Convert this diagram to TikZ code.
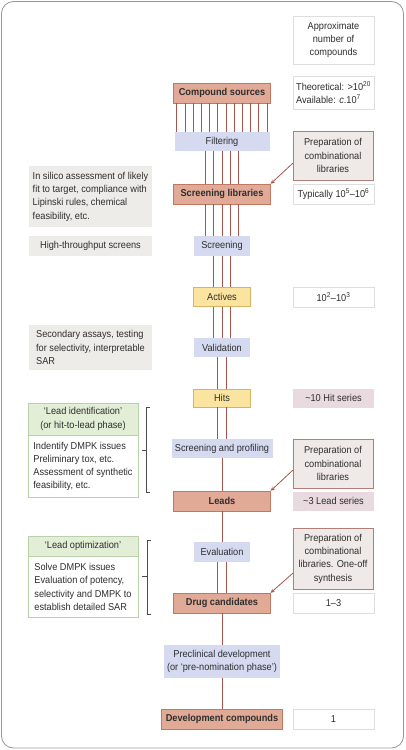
\documentclass[tikz,border=0pt]{standalone}
\usepackage{fontspec}
\setmainfont{Liberation Sans}[FakeStretch=0.92]
\usepackage{xcolor}
\usepackage{tikz}
\usetikzlibrary{arrows,positioning,calc}

\definecolor{stagefill}{RGB}{225,170,150}
\definecolor{stageline}{RGB}{190,120,100}
\definecolor{procfill}{RGB}{214,218,240}
\definecolor{resfill}{RGB}{250,228,160}
\definecolor{resline}{RGB}{215,180,100}
\definecolor{notefill}{RGB}{238,236,233}
\definecolor{prepfill}{RGB}{239,234,232}
\definecolor{prepline}{RGB}{176,128,120}
\definecolor{seriesfill}{RGB}{232,218,222}
\definecolor{countline}{RGB}{222,222,222}
\definecolor{phasefill}{RGB}{226,238,214}
\definecolor{phaseline}{RGB}{185,210,170}
\definecolor{linkcol}{RGB}{165,85,75}
\definecolor{framecol}{RGB}{150,150,150}

\begin{document}
\begin{tikzpicture}[
    x=1pt, y=-1pt,
    font=\fontsize{10}{13.3}\selectfont,
    every node/.style={text=black!82, inner xsep=3pt, inner ysep=2pt, align=center},
    stage/.style={rectangle, draw=stageline, fill=stagefill, minimum width=97, minimum height=20, font=\fontsize{10}{13.3}\selectfont\bfseries},
    process/.style={rectangle, fill=procfill, minimum height=19},
    result/.style={rectangle, draw=resline, fill=resfill, minimum width=57, minimum height=19},
    note/.style={rectangle, fill=notefill, minimum width=123, align=left},
    count/.style={rectangle, draw=countline, fill=white, minimum width=81, minimum height=20},
    series/.style={rectangle, fill=seriesfill, minimum width=81, minimum height=19},
    prep/.style={rectangle, draw=prepline, fill=prepfill, minimum width=80},
    phasehead/.style={rectangle, draw=phaseline, fill=phasefill, minimum width=110},
    phasebody/.style={rectangle, draw=phaseline, fill=white, minimum width=110, align=left},
    link/.style={draw=linkcol, line width=1pt},
    arrow/.style={->, >=stealth, draw=linkcol, line width=0.8pt},
    bracket/.style={draw=black!70, line width=0.6pt},
    frame/.style={draw=framecol, line width=0.8pt, rounded corners=12pt}
]
    \useasboundingbox (0,0) rectangle (405,750);
    \draw[frame] (1.5,1.5) rectangle (403.5,748);

    % main column
    \node[stage] (sources) at (222,93) {Compound sources};
    \node[process, minimum width=95] (filter) at (222,141.5) {Filtering};
    \node[stage] (screenlib) at (222,194) {Screening libraries};
    \node[process, minimum width=56, minimum height=20] (screen) at (222,246) {Screening};
    \node[result] (actives) at (222,297) {Actives};
    \node[process, minimum width=56] (valid) at (222,347.5) {Validation};
    \node[result, minimum height=18] (hits) at (222,398) {Hits};
    \node[process, minimum width=101] (profiling) at (222,448.5) {Screening and profiling};
    \node[stage] (leads) at (222,501) {Leads};
    \node[process, minimum width=56, minimum height=20] (eval) at (222,552) {Evaluation};
    \node[stage] (drug) at (222,603) {Drug candidates};
    \node[process, minimum width=114, minimum height=33] (preclin) at (222,661.5) {Preclinical development\\(or `pre-nomination phase')};
    \node[stage, minimum width=121] (devcomp) at (222,719) {Development compounds};

    % parallel links
    \foreach \a/\b/\n in {sources/filter/12, filter/screenlib/5, screenlib/screen/5,
                          screen/actives/3, actives/valid/3, valid/hits/2, hits/profiling/2,
                          profiling/leads/1, leads/eval/1, eval/drug/2, drug/preclin/1, preclin/devcomp/1}
        \foreach \i in {1,...,\n}{
            \pgfmathsetmacro\dx{(\i-(\n+1)/2)*8.2}
            \draw[link] ([xshift=\dx pt]\a.south) -- ([xshift=\dx pt]\b.north);
        }

    % numbers column
    \node[count, minimum height=48] (approx) at (333.5,40) {Approximate\\number of\\compounds};
    \node[count, minimum height=33, align=left] (theory) at (333.5,92.5) {Theoretical: >10\textsuperscript{20}\\Available: \textit{c}.10\textsuperscript{7}};
    \node[count] (typical) at (333.5,194) {Typically 10\textsuperscript{5}--10\textsuperscript{6}};
    \node[count] (activesno) at (333.5,297) {10\textsuperscript{2}--10\textsuperscript{3}};
    \node[series] (hitsno) at (333.5,398) {\textasciitilde10 Hit series};
    \node[series] (leadsno) at (333.5,501) {\textasciitilde3 Lead series};
    \node[count] (drugno) at (333.5,603) {1--3};
    \node[count] (devno) at (333.5,719) {1};

    % combinational libraries
    \node[prep, minimum height=49] (prep1) at (333,155.5) {Preparation of\\combinational\\libraries};
    \node[prep, minimum height=49] (prep2) at (333,463.5) {Preparation of\\combinational\\libraries};
    \node[prep, minimum height=61] (prep3) at (333,558.5) {Preparation of\\combinational\\libraries. One-off\\synthesis};

    \draw[arrow] ([yshift=17pt]prep1.south west) -- (screenlib.north east);
    \draw[arrow] ([yshift=18pt]prep2.south west) -- (leads.north east);
    \draw[arrow] ([yshift=16pt]prep3.south west) -- (drug.north east);

    % notes
    \node[note, minimum height=61] (insilico) at (90.5,196.5) {In silico assessment of likely\\fit to target, compliance with\\Lipinski rules, chemical\\feasibility, etc.};
    \node[note, minimum height=20] (htscreen) at (90.5,246) {High-throughput screens};
    \node[note, minimum height=45] (secondary) at (90.5,347.5) {Secondary assays, testing\\for selectivity, interpretable\\SAR};

    % phases
    \node[phasehead, minimum height=32] (leadidhead) at (83,419) {`Lead identification'\\(or hit-to-lead phase)};
    \node[phasebody, minimum height=62, below=0pt of leadidhead] (leadidbody) {Indentify DMPK issues\\Preliminary tox, etc.\\Assessment of synthetic\\feasibility, etc.};
    \node[phasehead, minimum height=20] (leadopthead) at (83,546) {`Lead optimization'};
    \node[phasebody, minimum height=61, below=0pt of leadopthead] (leadoptbody) {Solve DMPK issues\\Evaluation of potency,\\selectivity and DMPK to\\establish detailed SAR};

    \draw[bracket] ([xshift=12pt,yshift=-4pt]leadidhead.north east) -| ([xshift=8pt,yshift=5pt]leadidbody.south east) -- ++(4,0);
    \draw[bracket] ($(leadidhead.north east)!0.5!(leadidbody.south east)+(8,0)$) -- ++(-4,0);
    \draw[bracket] ([xshift=13pt,yshift=-4pt]leadopthead.north east) -| ([xshift=9pt,yshift=3pt]leadoptbody.south east) -- ++(4,0);
    \draw[bracket] ($(leadopthead.north east)!0.5!(leadoptbody.south east)+(9,0)$) -- ++(-5,0);
\end{tikzpicture}
\end{document}
